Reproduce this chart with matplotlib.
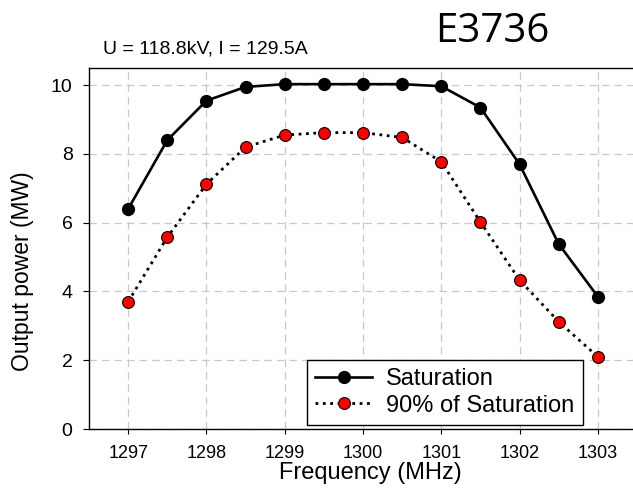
import matplotlib
matplotlib.use("Agg")
import matplotlib.pyplot as plt

freq = [1297, 1297.5, 1298, 1298.5, 1299, 1299.5, 1300, 1300.5, 1301, 1301.5, 1302, 1302.5, 1303]
saturation = [6.4, 8.4, 9.55, 9.95, 10.03, 10.03, 10.03, 10.03, 9.97, 9.35, 7.7, 5.38, 3.85]
sat90 = [3.7, 5.58, 7.12, 8.2, 8.55, 8.62, 8.62, 8.48, 7.77, 6.02, 4.33, 3.12, 2.1]
xticks = [1297, 1298, 1299, 1300, 1301, 1302, 1303]
yticks = [0, 2, 4, 6, 8, 10]

plt.rcParams['font.family'] = ['Liberation Sans', 'DejaVu Sans']
W, H = 633, 490
fig = plt.figure(figsize=(W/100, H/100), dpi=100)
left, right, top, bottom = 89, 637, 68, 429
aw, ah = right-left, bottom-top
ax = fig.add_axes([left/W, 1-bottom/H, aw/W, ah/H])

ax.plot(freq, saturation, '-', color='black', lw=1.9, marker='o', ms=8.5,
        mfc='black', mec='black', label='Saturation', zorder=3)
ax.plot(freq, sat90, ':', color='black', lw=2, marker='o', ms=8.5,
        mfc='red', mec='black', mew=0.8, label='90% of Saturation', zorder=3)

ax.set_xlim(1296.5, 1303.5)
ax.set_ylim(0, 10.5)
ax.set_xticks(xticks)
ax.set_yticks(yticks)
ax.tick_params(axis='x', labelsize=13, direction='out', length=3.6, pad=8)
ax.tick_params(axis='y', labelsize=14, direction='out', length=4.3, pad=7.5)
ax.grid(True, color='#c8c8c8', ls=(0, (6, 4)), lw=0.9)
ax.set_axisbelow(True)
for s in ax.spines.values():
    s.set_linewidth(1.0)
ax.set_xlabel('Frequency (MHz)', fontsize=17)
ax.xaxis.set_label_coords((370-left)/aw, -(462-bottom)/ah)
ax.set_ylabel('Output power (MW)', fontsize=16.5)
ax.yaxis.set_label_coords(-(left-34)/aw, (bottom-271)/ah)

leg = ax.legend(loc='lower left', bbox_to_anchor=((307-left)/aw, (bottom-425)/ah),
                borderaxespad=0, fontsize=17, frameon=True, fancybox=False,
                edgecolor='black', framealpha=1, handlelength=2.4, handletextpad=0.6,
                borderpad=0.35, labelspacing=0.2)
leg.get_frame().set_linewidth(1.0)

fig.text(103/W, 1-53/H, 'U = 118.8kV, I = 129.5A', fontsize=14, va='baseline', ha='left')
fig.text(435/W, 1-42/H, 'E3736', fontsize=29, va='baseline', ha='left', family='Open Sans')

fig.savefig('out.png', dpi=100)
